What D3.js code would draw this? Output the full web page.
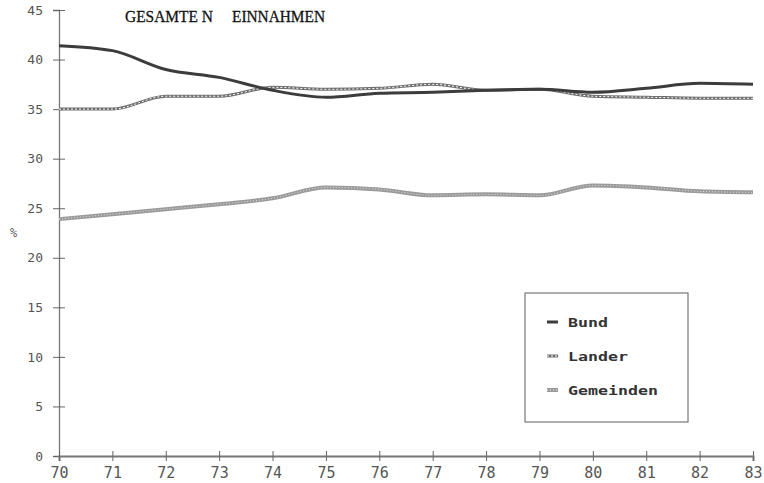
<!DOCTYPE html>
<html><head><meta charset="utf-8">
<script src="https://cdn.jsdelivr.net/npm/d3@7"></script>
<style>body{margin:0;background:#fff}</style>
</head><body>
<svg id="c" width="764" height="483"></svg>
<script>
const years = [70,71,72,73,74,75,76,77,78,79,80,81,82,83];
const yTicks = [0,5,10,15,20,25,30,35,40,45];
const bund =      [41.4,40.9,39.0,38.2,36.9,36.2,36.6,36.7,36.9,37.0,36.7,37.1,37.6,37.5];
const lander =    [35.0,35.0,36.3,36.3,37.2,37.0,37.1,37.5,36.9,37.0,36.3,36.2,36.1,36.1];
const gemeinden = [23.9,24.4,24.9,25.4,26.0,27.1,26.9,26.3,26.4,26.3,27.3,27.1,26.7,26.6];
const seriesNames = ["Bund","Lander","Gemeinden"];

const svg = d3.select("#c");
const x = d3.scaleLinear().domain([70,83]).range([59,753]);
const y = d3.scaleLinear().domain([0,45]).range([456,10]);
const mono = "DejaVu Sans Mono";

// axes
const yAxis = svg.append("g").attr("transform","translate(59,0)")
  .call(d3.axisLeft(y).tickValues(yTicks).tickSize(6).tickPadding(10));
yAxis.select(".domain").attr("stroke","#777").attr("stroke-width",1.3);
yAxis.selectAll(".tick line").attr("stroke","#666").attr("x2",6).attr("x1",-6);
yAxis.selectAll("text").attr("font-family",mono).attr("font-size",13).attr("fill","#555");

const xAxis = svg.append("g").attr("transform","translate(0,456)")
  .call(d3.axisBottom(x).tickValues(years).tickSize(5).tickPadding(6));
xAxis.select(".domain").attr("stroke","#777").attr("stroke-width",2);
xAxis.selectAll(".tick line").attr("stroke","#666").attr("y1",-5).attr("y2",5);
xAxis.selectAll("text").attr("font-family",mono).attr("font-size",15).attr("fill","#555");

svg.append("text").attr("x",10).attr("y",237).attr("font-family",mono).attr("font-size",12)
  .attr("fill","#666").text("%");

// title
svg.append("text").attr("x",125).attr("y",22).attr("font-family","Liberation Serif")
  .attr("font-size",17).attr("fill","#111").attr("stroke","#111").attr("stroke-width",0.3)
  .attr("textLength",88).attr("lengthAdjust","spacingAndGlyphs").text("GESAMTE N");
svg.append("text").attr("x",232).attr("y",22).attr("font-family","Liberation Serif")
  .attr("font-size",17).attr("fill","#111").attr("stroke","#111").attr("stroke-width",0.3)
  .attr("textLength",93).attr("lengthAdjust","spacingAndGlyphs").text("EINNAHMEN");

const line = d3.line().x((d,i)=>x(years[i])).y(d=>y(d)).curve(d3.curveMonotoneX);

// Gemeinden: light textured band
svg.append("path").datum(gemeinden).attr("d",line).attr("fill","none")
  .attr("stroke","#9a9a9a").attr("stroke-width",4);
svg.append("path").datum(gemeinden).attr("d",line).attr("fill","none")
  .attr("stroke","#fff").attr("stroke-width",1).attr("stroke-dasharray","1,2").attr("opacity",0.7);
// Lander: wavy double line
svg.append("path").datum(lander).attr("d",line).attr("fill","none")
  .attr("stroke","#6e6e6e").attr("stroke-width",3);
svg.append("path").datum(lander).attr("d",line).attr("fill","none")
  .attr("stroke","#fff").attr("stroke-width",1).attr("stroke-dasharray","2,2");
// Bund: solid dark
svg.append("path").datum(bund).attr("d",line).attr("fill","none")
  .attr("stroke","#3c3c3c").attr("stroke-width",3);

// legend
svg.append("rect").attr("x",525).attr("y",293).attr("width",163).attr("height",129)
  .attr("fill","#fff").attr("stroke","#777").attr("stroke-width",1.2);
const legY = [322,356,390];
const legStyles = [
  {c:"#3c3c3c",w:3,dash:null},
  {c:"#6e6e6e",w:3,dash:"2,2"},
  {c:"#9a9a9a",w:4,dash:"1,2"}
];
seriesNames.forEach((n,i)=>{
  const s = legStyles[i];
  svg.append("line").attr("x1",547).attr("x2",558).attr("y1",legY[i]).attr("y2",legY[i])
    .attr("stroke",s.c).attr("stroke-width",s.w);
  if(s.dash) svg.append("line").attr("x1",547).attr("x2",558).attr("y1",legY[i]).attr("y2",legY[i])
    .attr("stroke","#fff").attr("stroke-width",1).attr("stroke-dasharray",s.dash);
  svg.append("text").attr("x",568).attr("y",legY[i]+5).attr("font-family",mono)
    .attr("font-size",13).attr("font-weight","bold").attr("fill","#333")
    .attr("textLength",n.length*10).attr("lengthAdjust","spacingAndGlyphs").text(n);
});
</script>
</body></html>
